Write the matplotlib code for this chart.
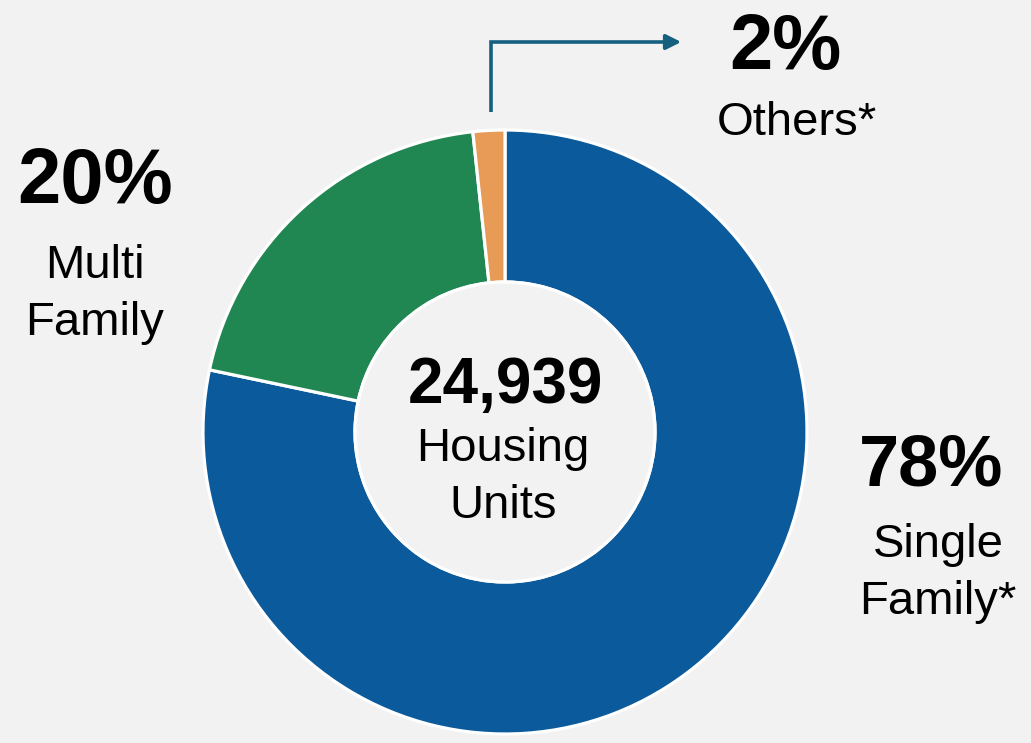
import matplotlib
matplotlib.use("Agg")
import matplotlib.pyplot as plt

categories = ["Single Family*", "Multi Family", "Others*"]
shares = [78.3, 20.0, 1.7]
pct_labels = ["78%", "20%", "2%"]
name_lines = [["Single", "Family*"], ["Multi", "Family"], ["Others*"]]
total_units = "24,939"
center_lines = ["Housing", "Units"]
colors = ["#0B5A9B", "#218752", "#E89A57"]

W, H = 1031, 743
plt.rcParams['font.family'] = ['Liberation Sans', 'DejaVu Sans']
fig = plt.figure(figsize=(W / 100, H / 100), dpi=100, facecolor="#F2F2F2")
ax = fig.add_axes([0, 0, 1, 1])
ax.set_facecolor("#F2F2F2")

def Y(py):
    return H - py

cx, cy, R, r = 505, Y(432), 302, 150
ax.pie(shares, colors=colors, startangle=90, counterclock=False,
       center=(cx, cy), radius=R, frame=True,
       wedgeprops=dict(width=R - r, edgecolor="white", linewidth=2.3))
ax.set_xlim(0, W)
ax.set_ylim(0, H)
ax.set_aspect("equal")
ax.axis("off")
inner = plt.Circle((cx, cy), r, facecolor="#F2F2F2", edgecolor="white", lw=2.3, zorder=5)
ax.add_patch(inner)

FS = 34
# center text
ax.text(505, Y(386), total_units, ha="center", va="center", fontsize=46, fontweight="bold", zorder=6)
for line, py in zip(center_lines, [449, 506]):
    ax.text(503, Y(py), line, ha="center", va="center", fontsize=FS, zorder=6)

# labels
ax.text(931, Y(467), pct_labels[0], ha="center", va="center", fontsize=52, fontweight="bold")
for line, py in zip(name_lines[0], [545, 602]):
    ax.text(938, Y(py), line, ha="center", va="center", fontsize=FS)
ax.text(95, Y(182), pct_labels[1], ha="center", va="center", fontsize=56, fontweight="bold")
for line, py in zip(name_lines[1], [266, 323]):
    ax.text(95, Y(py), line, ha="center", va="center", fontsize=FS)
ax.text(785, Y(48), pct_labels[2], ha="center", va="center", fontsize=56, fontweight="bold")
ax.text(797, Y(123), name_lines[2][0], ha="center", va="center", fontsize=FS)

# arrow
arrow_c = "#15607F"
ax.plot([491, 491, 670], [Y(112), Y(42), Y(42)], color=arrow_c, lw=2.6, solid_capstyle="butt", solid_joinstyle="miter")
ax.annotate("", xy=(684, Y(42)), xytext=(665, Y(42)),
            arrowprops=dict(arrowstyle="-|>,head_length=0.9,head_width=0.45", color=arrow_c, lw=2.6))

fig.savefig("out.png", dpi=100, facecolor=fig.get_facecolor())
